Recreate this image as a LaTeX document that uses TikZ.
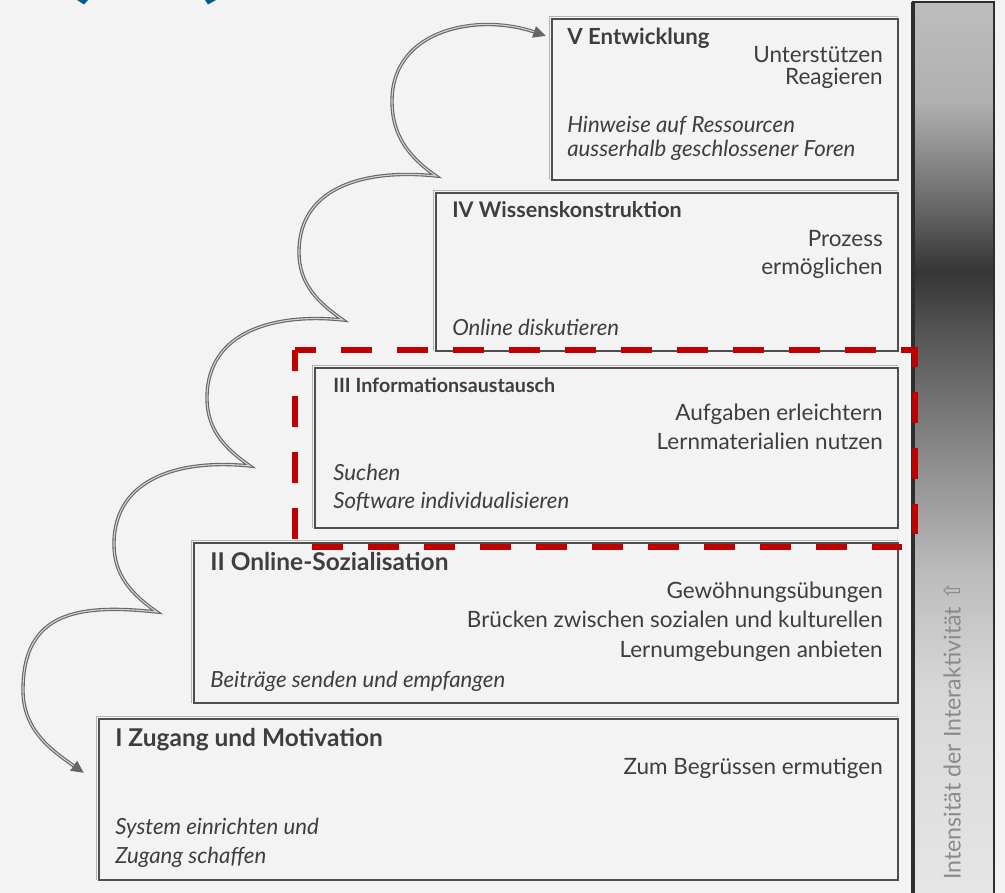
\documentclass[tikz,border=0pt]{standalone}
\usepackage{fontspec}
\setmainfont{Lato}
\newfontfamily\symbolfont{DejaVu Sans}
\usetikzlibrary{arrows.meta,calc}

\definecolor{bg}{HTML}{F3F3F3}
\definecolor{ink}{HTML}{3E3E3E}
\definecolor{frame}{HTML}{4E4E4E}
\definecolor{frameshadow}{HTML}{B4B4B4}
\definecolor{dashred}{HTML}{C00000}
\definecolor{logoblue}{HTML}{005C96}
\definecolor{bartext}{HTML}{8A8A8A}
\definecolor{barframe}{HTML}{2E2E2E}
\definecolor{curvegray}{HTML}{666666}
\definecolor{curvelight}{HTML}{D2D2D2}

% grey ramp of the interactivity bar (bottom = 25bp, top = 75bp)
\pgfdeclareverticalshading{barshade}{100bp}{%
  rgb(0bp)=(0.902,0.902,0.902);
  rgb(25bp)=(0.902,0.902,0.902);
  rgb(36.4bp)=(0.847,0.847,0.847);
  rgb(43bp)=(0.741,0.741,0.741);
  rgb(49.5bp)=(0.549,0.549,0.549);
  rgb(56bp)=(0.353,0.353,0.353);
  rgb(60bp)=(0.208,0.208,0.208);
  rgb(63.8bp)=(0.416,0.416,0.416);
  rgb(69.4bp)=(0.690,0.690,0.690);
  rgb(75bp)=(0.741,0.741,0.741);
  rgb(100bp)=(0.741,0.741,0.741)}

\tikzset{
  stagebox/.style={draw=frame, line width=1.7pt, fill=bg},
  stageshadow/.style={draw=frameshadow, line width=0.5pt},
  stagetitle/.style={anchor=base west, inner sep=0pt, text=ink,
    font=\fontsize{#1}{18}\selectfont\bfseries},
  support/.style={anchor=base east, inner sep=0pt, text=ink,
    font=\fontsize{16}{19}\selectfont},
  activity/.style={anchor=base west, inner sep=0pt, text=ink,
    font=\fontsize{15.8}{19}\selectfont\itshape},
  scallop/.style={line width=2.4pt, draw=curvegray,
    {Triangle[length=9pt,width=8pt]}-{Triangle[length=9pt,width=8pt]}},
  scallopcore/.style={line width=0.8pt, draw=curvelight,
    shorten <=9pt, shorten >=9pt},
  focusframe/.style={draw=dashred, line width=4.8pt,
    dash pattern=on 22pt off 17.8pt, dash phase=7.1pt},
}

\begin{document}
\begin{tikzpicture}[x=0.025cm, y=0.025cm]
  \useasboundingbox (0,0) rectangle (1005,893);
  \fill[bg] (0,0) rectangle (1005,893);

  % cut-off logo tips at the top edge
  \fill[logoblue] (77,893) -- (88,893) -- (84,888.5) -- cycle;
  \fill[logoblue] (205,893) -- (216,893) -- (208,888.5) -- cycle;

  % interactivity bar
  \coordinate (bar-sw) at (913,-6);
  \coordinate (bar-ne) at (994,891);
  \shade[shading=barshade] (bar-sw) rectangle (bar-ne);
  \draw[barframe, line width=1.5pt] (bar-sw) rectangle (bar-ne);
  \draw[barframe, line width=2.6pt] (bar-sw) -- (bar-sw |- bar-ne);
  \node[rotate=90, anchor=mid west, inner sep=0pt, text=bartext,
        font=\fontsize{16.5}{19}\selectfont] (axislabel) at (957,13)
        {Intensität der Interaktivität {\symbolfont\fontsize{16}{18}\selectfont ⇧}};

  % cusps (c) and leftmost points (w) of the scalloped arrow
  \coordinate (c0) at (84,120);
  \coordinate (w0) at (23,203);
  \coordinate (c1) at (157,281);
  \coordinate (w1) at (114,349);
  \coordinate (c2) at (250,427);
  \coordinate (w2) at (207,495);
  \coordinate (c3) at (343,573);
  \coordinate (w3) at (299,641);
  \coordinate (c4) at (436,717);
  \coordinate (w4) at (392,792);
  \coordinate (c5) at (546,857);
  \def\scallops{(c0) to[out=145,in=-90] (w0)
      to[out=90,in=174,looseness=1.3] (c1)
    to[out=145,in=-90] (w1) to[out=90,in=174,looseness=1.1] (c2)
    to[out=145,in=-90] (w2) to[out=90,in=174,looseness=1.1] (c3)
    to[out=145,in=-90] (w3) to[out=90,in=174,looseness=1.1] (c4)
    to[out=145,in=-90] (w4) to[out=90,in=161,looseness=1.1] (c5)}
  \draw[scallop] \scallops;
  \draw[scallopcore] \scallops;

  % stage boxes
  \coordinate (V-nw) at (552,874);   \coordinate (V-se) at (898,713);
  \coordinate (IV-nw) at (436,700);  \coordinate (IV-se) at (898,542);
  \coordinate (III-nw) at (315,525); \coordinate (III-se) at (898,365);
  \coordinate (II-nw) at (194,350);  \coordinate (II-se) at (898,190);
  \coordinate (I-nw) at (99,174);    \coordinate (I-se) at (898,13);
  \foreach \s in {V,IV,III,II,I}{
    \draw[stageshadow] ($(\s-nw)+(-3,3)$) -- ($(\s-nw |- \s-se)+(-3,0)$);
    \draw[stageshadow] ($(\s-nw)+(-3,3)$) -- ($(\s-se |- \s-nw)+(0,3)$);
    \draw[stagebox] (\s-nw) rectangle (\s-se);
  }

  % highlighted stage frame
  \coordinate (focus-nw) at (295,543);
  \coordinate (focus-se) at (915,346);
  \draw[focusframe] (focus-nw) -- (focus-nw -| focus-se) -- (focus-se)
    -- (focus-se -| focus-nw) -- cycle;

  % V
  \node[stagetitle=15.8] (t5) at (567,848) {V Entwicklung};
  \node[support] (s5a) at (883,830) {Unterstützen};
  \node[support] (s5b) at (883,808) {Reagieren};
  \node[activity] (a5a) at (567,760) {Hinweise auf Ressourcen};
  \node[activity] (a5b) at (567,736) {ausserhalb geschlossener Foren};

  % IV
  \node[stagetitle=15.3] (t4) at (452,675) {IV Wissenskonstruktion};
  \node[support] (s4a) at (883,646) {Prozess};
  \node[support] (s4b) at (883,618) {ermöglichen};
  \node[activity] (a4a) at (452,557) {Online diskutieren};

  % III
  \node[stagetitle=14] (t3) at (333,500) {III Informationsaustausch};
  \node[support] (s3a) at (883,472) {Aufgaben erleichtern};
  \node[support] (s3b) at (883,443) {Lernmaterialien nutzen};
  \node[activity] (a3a) at (333,412) {Suchen};
  \node[activity] (a3b) at (333,384) {Software individualisieren};

  % II
  \node[stagetitle=17.4] (t2) at (210,322) {II Online-Sozialisation};
  \node[support] (s2a) at (883,294) {Gewöhnungsübungen};
  \node[support] (s2b) at (883,265) {Brücken zwischen sozialen und kulturellen};
  \node[support] (s2c) at (883,235) {Lernumgebungen anbieten};
  \node[activity] (a2a) at (210,205) {Beiträge senden und empfangen};

  % I
  \node[stagetitle=17.4] (t1) at (115,146) {I Zugang und Motivation};
  \node[support] (s1a) at (883,118) {Zum Begrüssen ermutigen};
  \node[activity] (a1a) at (115,58) {System einrichten und};
  \node[activity] (a1b) at (115,29) {Zugang schaffen};
\end{tikzpicture}
\end{document}
